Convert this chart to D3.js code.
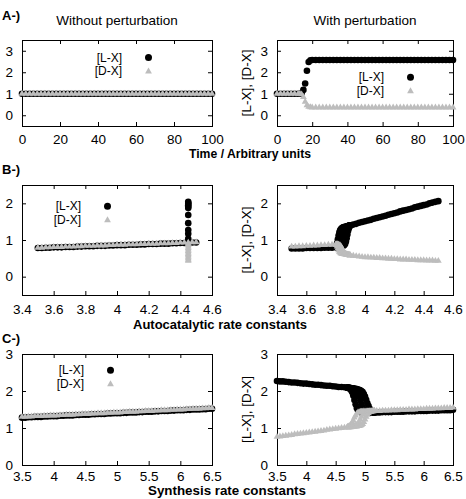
<!DOCTYPE html>
<html>
<head>
<meta charset="utf-8">
<script src="https://cdn.jsdelivr.net/npm/d3@7"></script>
<style>
body { margin: 0; background: #fff; }
svg { display: block; font-family: "Liberation Sans", Arial, Helvetica, sans-serif; }
</style>
</head>
<body>
<svg id="chart" width="466" height="499"></svg>
<script>
// ---- A: time courses ----
var timeA = [0,2,4,6,8,10,12,14,16,18,20,22,24,26,28,30,32,34,36,38,40,42,44,46,48,50,
    52,54,56,58,60,62,64,66,68,70,72,74,76,78,80,82,84,86,88,90,92,94,96,98,100];
var aLeftL = [1,1,1,1,1,1,1,1,1,1,1,1,1,1,1,1,1,1,1,1,1,1,1,1,1,1,
    1,1,1,1,1,1,1,1,1,1,1,1,1,1,1,1,1,1,1,1,1,1,1,1,1];
var aLeftD = [1,1,1,1,1,1,1,1,1,1,1,1,1,1,1,1,1,1,1,1,1,1,1,1,1,1,
    1,1,1,1,1,1,1,1,1,1,1,1,1,1,1,1,1,1,1,1,1,1,1,1,1];

var timeAR = [0,2,4,6,8,10,12,13,14,15,16,17,18,19,20,22,24,26,28,30,32,34,36,38,40,42,44,46,48,
    50,52,54,56,58,60,62,64,66,68,70,72,74,76,78,80,82,84,86,88,90,92,94,96,98,100];
var aRightL = [1,1,1,1,1,1,1,1,1.03,1.18,1.48,2.07,2.48,2.56,2.57,
    2.57,2.57,2.57,2.57,2.57,2.57,2.57,2.57,2.57,2.57,2.57,2.57,2.57,2.57,2.57,2.57,2.57,2.57,2.57,2.57,
    2.57,2.57,2.57,2.57,2.57,2.57,2.57,2.57,2.57,2.57,2.57,2.57,2.57,2.57,2.57,2.57,2.57,2.57,2.57,2.57];
var aRightD = [1,1,1,1,1,1,1,1,0.97,0.85,0.63,0.46,0.39,0.37,0.36,
    0.36,0.36,0.36,0.36,0.36,0.36,0.36,0.36,0.36,0.36,0.36,0.36,0.36,0.36,0.36,0.36,0.36,0.36,0.36,0.36,
    0.36,0.36,0.36,0.36,0.36,0.36,0.36,0.36,0.36,0.36,0.36,0.36,0.36,0.36,0.36,0.36,0.36,0.36,0.36,0.36];

// ---- B: autocatalytic rate constants ----
var bRate = [3.5,3.525,3.55,3.575,3.6,3.625,3.65,3.675,3.7,3.725,3.75,3.775,3.8,3.825,3.85,3.875,
    3.9,3.925,3.95,3.975,4,4.025,4.05,4.075,4.1,4.125,4.15,4.175,4.2,4.225,4.25,4.275,4.3,4.325,
    4.35,4.375,4.4,4.425,4.45,4.475,4.5];
var bLeftL = [0.78,0.78,0.79,0.79,0.80,0.80,0.80,0.81,0.81,0.81,0.82,0.82,0.83,0.83,0.83,0.84,0.84,
    0.84,0.85,0.85,0.86,0.86,0.86,0.87,0.87,0.87,0.88,0.88,0.89,0.89,0.89,0.90,0.90,0.90,0.91,0.91,
    0.92,0.92,0.92,0.93,0.93];
var bLeftD = [0.79,0.79,0.80,0.80,0.81,0.81,0.81,0.82,0.82,0.82,0.83,0.83,0.84,0.84,0.84,0.85,0.85,
    0.85,0.86,0.86,0.87,0.87,0.87,0.88,0.88,0.88,0.89,0.89,0.90,0.90,0.90,0.91,0.91,0.91,0.92,0.92,
    0.93,0.93,0.93,0.94,0.94];
var bJumpRate = 4.45;
var bJumpL = [2.04,2.01,1.98,1.95,1.91,1.87,1.68,1.46,1.27,1.17,1.03];
var bJumpD = [0.90,0.86,0.82,0.78,0.74,0.70,0.66,0.62,0.58,0.54,0.50,0.46,0.43];

var bRateR = [3.5,3.525,3.55,3.575,3.6,3.625,3.65,3.675,3.7,3.725,3.75,3.775,3.8,
    3.805,3.81,3.815,3.82,3.825,3.83,3.835,3.84,3.845,3.85,3.855,3.86,3.865,3.87,3.875,3.88,3.885,
    3.89,3.895,3.9,
    3.92,3.94,3.96,3.98,4,4.02,4.04,4.06,4.08,4.1,4.12,4.14,4.16,4.18,4.2,4.22,4.24,4.26,4.28,4.3,
    4.32,4.34,4.36,4.38,4.4,4.42,4.44,4.46,4.48,4.5];
var bRightL = [0.77,0.77,0.77,0.77,0.78,0.78,0.78,0.78,0.78,0.79,0.79,0.79,0.80,
    0.81,0.82,0.84,0.87,0.92,0.98,1.05,1.12,1.18,1.23,1.27,1.30,1.33,1.35,1.36,1.37,1.38,1.39,1.40,1.40,
    1.42,1.44,1.47,1.49,1.51,1.53,1.55,1.58,1.60,1.62,1.64,1.66,1.69,1.71,1.73,1.75,1.78,1.80,1.82,
    1.84,1.86,1.89,1.91,1.93,1.95,1.97,2.00,2.02,2.04,2.06];
var bRightD = [0.82,0.82,0.83,0.83,0.84,0.84,0.85,0.85,0.86,0.86,0.87,0.87,0.88,
    0.88,0.87,0.85,0.82,0.78,0.74,0.70,0.67,0.65,0.64,0.63,0.62,0.62,0.61,0.60,0.60,0.59,0.59,0.58,0.58,
    0.57,0.56,0.55,0.54,0.53,0.53,0.52,0.52,0.51,0.51,0.50,0.50,0.49,0.49,0.48,0.48,0.47,0.47,0.47,
    0.46,0.46,0.46,0.45,0.45,0.45,0.44,0.44,0.44,0.43,0.43];
// other runs that only differ around the switch
var bWindow = [3.805,3.81,3.815,3.82,3.825,3.83,3.835,3.84,3.845,3.85,3.855,3.86,3.865,3.87,3.875,
    3.88,3.885,3.89,3.895,3.9];
var bEarlyL = [0.84,0.92,1.02,1.12,1.20,1.26,1.29,1.31,1.33,1.34,1.35,1.35,1.36,1.36,1.37,1.38,1.38,1.39,1.39,1.40];
var bLateL = [0.80,0.81,0.81,0.81,0.82,0.82,0.82,0.83,0.83,0.84,0.85,0.87,0.90,0.96,1.05,1.15,1.25,1.32,1.37,1.40];
var bEarlyD = [0.86,0.82,0.77,0.72,0.68,0.66,0.64,0.63,0.62,0.62,0.62,0.61,0.61,0.61,0.60,0.60,0.59,0.59,0.58,0.58];
var bLateD = [0.88,0.88,0.88,0.87,0.86,0.85,0.83,0.80,0.76,0.72,0.68,0.65,0.63,0.62,0.61,0.60,0.60,0.59,0.59,0.58];

// ---- C: synthesis rate constants ----
var cRate = [3.5,3.55,3.6,3.65,3.7,3.75,3.8,3.85,3.9,3.95,4,4.05,4.1,4.15,4.2,4.25,4.3,4.35,4.4,4.45,
    4.5,4.55,4.6,4.65,4.7,4.75,4.8,4.85,4.9,4.95,5,5.05,5.1,5.15,5.2,5.25,5.3,5.35,5.4,5.45,5.5,5.55,
    5.6,5.65,5.7,5.75,5.8,5.85,5.9,5.95,6,6.05,6.1,6.15,6.2,6.25,6.3,6.35,6.4,6.45,6.5];
var cLeftL = [1.28,1.28,1.29,1.29,1.30,1.30,1.30,1.31,1.31,1.32,1.32,1.32,1.33,1.33,1.34,1.34,1.34,
    1.35,1.35,1.36,1.36,1.36,1.37,1.37,1.38,1.38,1.38,1.39,1.39,1.40,1.40,1.40,1.41,1.41,1.42,1.42,
    1.42,1.43,1.43,1.44,1.44,1.44,1.45,1.45,1.46,1.46,1.46,1.47,1.47,1.48,1.48,1.48,1.49,1.49,1.50,
    1.50,1.50,1.51,1.51,1.52,1.52];
var cLeftD = [1.30,1.30,1.31,1.31,1.32,1.32,1.32,1.33,1.33,1.34,1.34,1.34,1.35,1.35,1.36,1.36,1.36,
    1.37,1.37,1.38,1.38,1.38,1.39,1.39,1.40,1.40,1.40,1.41,1.41,1.42,1.42,1.42,1.43,1.43,1.44,1.44,
    1.44,1.45,1.45,1.46,1.46,1.46,1.47,1.47,1.48,1.48,1.48,1.49,1.49,1.50,1.50,1.50,1.51,1.51,1.52,
    1.52,1.52,1.53,1.53,1.54,1.54];

var cRateR = [3.5,3.55,3.6,3.65,3.7,3.75,3.8,3.85,3.9,3.95,4,4.05,4.1,4.15,4.2,4.25,4.3,4.35,4.4,
    4.45,4.5,4.55,4.6,4.65,
    4.7,4.72,4.74,4.76,4.78,4.8,4.82,4.84,4.86,4.88,4.9,4.92,4.94,4.96,4.98,5,5.02,5.04,5.06,5.08,
    5.1,5.12,5.14,5.16,
    5.2,5.25,5.3,5.35,5.4,5.45,5.5,5.55,5.6,5.65,5.7,5.75,5.8,5.85,5.9,5.95,6,6.05,6.1,6.15,6.2,
    6.25,6.3,6.35,6.4,6.45,6.5];
var cRightL = [2.27,2.26,2.26,2.25,2.24,2.23,2.23,2.22,2.21,2.20,2.20,2.19,2.18,2.17,2.17,2.16,2.15,
    2.14,2.14,2.13,2.12,2.11,2.11,2.10,
    2.09,2.09,2.08,2.08,2.07,2.06,2.05,2.03,2.00,1.95,1.86,1.75,1.64,1.55,1.49,1.46,1.44,1.43,1.43,
    1.43,1.43,1.42,1.42,1.42,
    1.42,1.42,1.43,1.43,1.43,1.43,1.44,1.44,1.44,1.44,1.45,1.45,1.45,1.45,1.46,1.46,1.46,1.46,1.47,
    1.47,1.47,1.47,1.48,1.48,1.48,1.48,1.49];
var cRightD = [0.76,0.77,0.78,0.79,0.80,0.81,0.83,0.84,0.85,0.86,0.87,0.88,0.89,0.90,0.91,0.92,0.93,
    0.95,0.96,0.97,0.98,0.99,1.00,1.01,
    1.02,1.02,1.03,1.03,1.04,1.05,1.06,1.07,1.09,1.12,1.17,1.23,1.30,1.36,1.40,1.42,1.43,1.44,1.44,
    1.45,1.45,1.45,1.46,1.46,
    1.46,1.46,1.47,1.47,1.47,1.48,1.48,1.48,1.49,1.49,1.49,1.50,1.50,1.50,1.51,1.51,1.51,1.52,1.52,
    1.52,1.53,1.53,1.53,1.54,1.54,1.54,1.55];
var cWindow = [4.7,4.72,4.74,4.76,4.78,4.8,4.82,4.84,4.86,4.88,4.9,4.92,4.94,4.96,4.98,5,5.02,5.04,
    5.06,5.08,5.1,5.12,5.14,5.16];
var cEarlyL = [2.09,2.08,2.06,2.03,1.97,1.88,1.76,1.64,1.54,1.47,1.44,1.43,1.42,1.42,1.42,1.42,1.42,
    1.42,1.42,1.42,1.42,1.42,1.42,1.42];
var cLateL = [2.09,2.09,2.08,2.08,2.07,2.07,2.06,2.06,2.05,2.04,2.03,2.02,2.00,1.97,1.92,1.85,1.76,
    1.67,1.59,1.52,1.47,1.44,1.43,1.42];
var cEarlyD = [1.03,1.04,1.06,1.09,1.14,1.21,1.28,1.34,1.39,1.42,1.43,1.44,1.44,1.44,1.45,1.45,1.45,
    1.45,1.45,1.45,1.45,1.46,1.46,1.46];
var cLateD = [1.02,1.02,1.02,1.02,1.03,1.03,1.03,1.04,1.04,1.05,1.05,1.06,1.08,1.11,1.16,1.23,1.30,
    1.36,1.40,1.43,1.44,1.45,1.45,1.46];

// ---- axes ticks ----
var ticksTime = [0,20,40,60,80,100];
var ticksA = [0,1,2,3];
var ticksAuto = [3.4,3.6,3.8,4,4.2,4.4,4.6];
var ticksB = [0,1,2];
var ticksSynth = [3.5,4,4.5,5,5.5,6,6.5];
var ticksC = [0,1,2,3];

var svg = d3.select("#chart");
var GRAY = "#bdbdbd";
var FONT = 13.5;
var triangle = d3.symbol().type(d3.symbolTriangle).size(20);

function repeat(v, n) {
    return n.map(function () { return v; });
}

function series(xs, ys) {
    return xs.map(function (d, i) { return {x: d, y: ys[i]}; });
}

function drawPanel(p) {
    var x = d3.scaleLinear().domain(p.xDomain).range([p.left, p.right]);
    var y = d3.scaleLinear().domain(p.yDomain).range([p.bottom, p.top]);
    var g = svg.append("g");

    // gnuplot style: ticks on all four sides, pointing in
    g.append("g").attr("transform", "translate(0," + p.bottom + ")")
        .call(d3.axisBottom(x).tickValues(p.xTicks).tickSize(-4).tickPadding(p.xPad).tickFormat(String));
    g.append("g").attr("transform", "translate(0," + p.top + ")")
        .call(d3.axisTop(x).tickValues(p.xTicks).tickSize(-4).tickFormat(""));
    g.append("g").attr("transform", "translate(" + p.left + ",0)")
        .call(d3.axisLeft(y).tickValues(p.yTicks).tickSize(-4).tickPadding(9).tickFormat(String));
    g.append("g").attr("transform", "translate(" + p.right + ",0)")
        .call(d3.axisRight(y).tickValues(p.yTicks).tickSize(-4).tickFormat(""));
    g.selectAll(".domain").remove();
    g.selectAll("g").attr("font-family", null).attr("font-size", null);
    g.selectAll(".tick text").style("font-size", FONT + "px").attr("fill", "#000");

    g.append("rect")
        .attr("x", p.left + 0.5).attr("y", p.top + 0.5)
        .attr("width", p.right - p.left).attr("height", p.bottom - p.top)
        .attr("fill", "none").attr("stroke", "#000").attr("stroke-width", 1);

    var black = [], grey = [];
    p.data.forEach(function (s) {
        var into = s.kind === "L" ? black : grey;
        into.push.apply(into, s.points);
    });

    g.append("g").selectAll("circle").data(black).join("circle")
        .attr("cx", function (d) { return x(d.x); })
        .attr("cy", function (d) { return y(d.y); })
        .attr("r", 3.3).attr("fill", "#000");

    g.append("g").selectAll("path").data(grey).join("path")
        .attr("d", triangle)
        .attr("transform", function (d) { return "translate(" + x(d.x) + "," + y(d.y) + ")"; })
        .attr("fill", GRAY);

    if (p.legend) {
        // two rows, 13.5px apart, centred on the reference rows
        var lx = p.legend[0], ly = p.legend[1] - 0.5;
        var lg = g.append("g").style("font-size", "12px").attr("fill", "#000");
        lg.append("text").attr("x", lx).attr("y", ly).attr("dy", "0.35em")
            .attr("text-anchor", "end").text("[L-X]");
        lg.append("text").attr("x", lx).attr("y", ly + 13.5).attr("dy", "0.35em")
            .attr("text-anchor", "end").text("[D-X]");
        lg.append("circle").attr("cx", lx + 26.5).attr("cy", ly).attr("r", 3.5).attr("fill", "#000");
        lg.append("path").attr("d", triangle).attr("fill", GRAY)
            .attr("transform", "translate(" + (lx + 26.5) + "," + (ly + 14) + ")");
    }

    if (p.yLabel) {
        g.append("text")
            .attr("transform", "translate(246," + ((p.top + p.bottom) / 2) + ") rotate(-90)")
            .attr("dy", "0.35em").attr("text-anchor", "middle")
            .style("font-size", FONT + "px").text("[L-X], [D-X]");
    }
}

var panels = [
    {left: 22, right: 212, top: 40, bottom: 126, xDomain: [0, 100], yDomain: [-0.5, 3.5],
        xTicks: ticksTime, yTicks: ticksA, xPad: 8, legend: [122, 58],
        data: [{kind: "L", points: series(timeA, aLeftL)}, {kind: "D", points: series(timeA, aLeftD)}]},
    {left: 277, right: 453, top: 40, bottom: 126, xDomain: [0, 100], yDomain: [-0.5, 3.5],
        xTicks: ticksTime, yTicks: ticksA, xPad: 8, legend: [384, 77.7], yLabel: true,
        data: [{kind: "L", points: series(timeAR, aRightL)}, {kind: "D", points: series(timeAR, aRightD)}]},
    {left: 22, right: 212, top: 185, bottom: 295, xDomain: [3.4, 4.6], yDomain: [-0.5, 2.5],
        xTicks: ticksAuto, yTicks: ticksB, xPad: 9, legend: [81, 206.7],
        data: [{kind: "L", points: series(bRate, bLeftL)},
            {kind: "L", points: series(repeat(bJumpRate, bJumpL), bJumpL)},
            {kind: "D", points: series(bRate, bLeftD)},
            {kind: "D", points: series(repeat(bJumpRate, bJumpD), bJumpD)}]},
    {left: 277, right: 453, top: 185, bottom: 295, xDomain: [3.4, 4.6], yDomain: [-0.5, 2.5],
        xTicks: ticksAuto, yTicks: ticksB, xPad: 9, yLabel: true,
        data: [{kind: "L", points: series(bRateR, bRightL)},
            {kind: "L", points: series(bWindow, bEarlyL)},
            {kind: "L", points: series(bWindow, bLateL)},
            {kind: "D", points: series(bRateR, bRightD)},
            {kind: "D", points: series(bWindow, bEarlyD)},
            {kind: "D", points: series(bWindow, bLateD)}]},
    {left: 22, right: 212, top: 354, bottom: 465, xDomain: [3.5, 6.5], yDomain: [0, 3],
        xTicks: ticksSynth, yTicks: ticksC, xPad: 6, legend: [84, 370.7],
        data: [{kind: "L", points: series(cRate, cLeftL)}, {kind: "D", points: series(cRate, cLeftD)}]},
    {left: 277, right: 453, top: 354, bottom: 465, xDomain: [3.5, 6.5], yDomain: [0, 3],
        xTicks: ticksSynth, yTicks: ticksC, xPad: 6, yLabel: true,
        data: [{kind: "L", points: series(cRateR, cRightL)},
            {kind: "L", points: series(cWindow, cEarlyL)},
            {kind: "L", points: series(cWindow, cLateL)},
            {kind: "D", points: series(cRateR, cRightD)},
            {kind: "D", points: series(cWindow, cEarlyD)},
            {kind: "D", points: series(cWindow, cLateD)}]}
];

panels.forEach(drawPanel);

// titles, panel letters and shared x labels
function label(txt, x, y, opts) {
    var t = svg.append("text").attr("x", x).attr("y", y).text(txt)
        .style("font-size", (opts.size || FONT) + "px")
        .attr("text-anchor", opts.anchor || "start");
    if (opts.bold) t.style("font-weight", "bold");
    if (opts.width) t.attr("textLength", opts.width).attr("lengthAdjust", "spacingAndGlyphs");
    return t;
}

label("A-)", 2, 20, {bold: true, size: 13});
label("B-)", 2, 174, {bold: true, size: 13});
label("C-)", 2, 343, {bold: true, size: 13});
label("Without perturbation", 117, 25, {anchor: "middle"});
label("With perturbation", 365, 25, {anchor: "middle"});
label("Time / Arbitrary units", 189, 158, {bold: true, size: 12.5, width: 122});
label("Autocatalytic rate constants", 133, 329, {bold: true, size: 12.5, width: 174});
label("Synthesis rate constants", 148, 495, {bold: true, size: 12, width: 158});
</script>
</body>
</html>
